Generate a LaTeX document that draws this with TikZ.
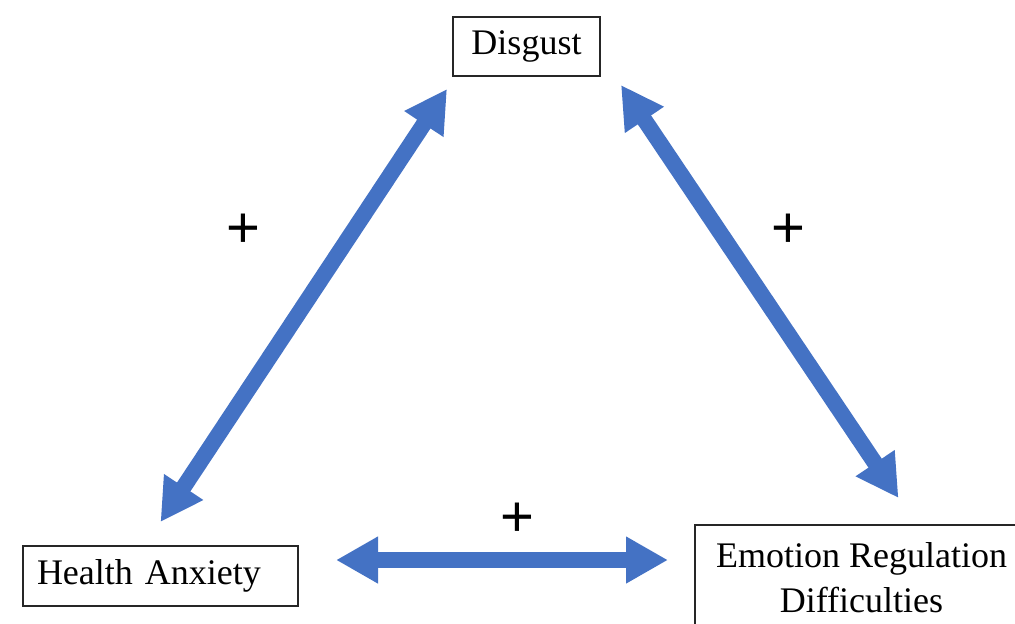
\documentclass[tikz,border=0pt]{standalone}
\usepackage{fontspec}
\setmainfont{Liberation Serif}
\newfontfamily\plusfont{Liberation Sans}
\usetikzlibrary{arrows.meta}
\definecolor{linkblue}{HTML}{4472C4}

\begin{document}
\begin{tikzpicture}[x=0.5pt,y=-0.5pt,
  box/.style={draw=black!85,line width=1pt,font=\fontsize{18}{22.5}\selectfont},
  link/.style={draw=linkblue,line width=8pt,{Triangle[width=22pt,length=21pt]}-{Triangle[width=22pt,length=21pt]}},
  sign/.style={font=\plusfont\fontsize{29}{30}\selectfont,inner sep=0pt}]
  \path[use as bounding box,clip] (0,0) rectangle (1015,623);
  \node[box,minimum width=73.5pt,minimum height=29.5pt,inner sep=0pt] (dis) at (526.5,46.5) {Disgust};
  \node[box,text width=123.5pt,inner xsep=7pt,minimum height=30pt,inner ysep=0pt,align=left] (ha) at (160.5,576) {Health Anxiety};
  \node[box,anchor=north west,minimum width=166.5pt,inner ysep=9pt,align=center] (erd) at (694,524) {Emotion Regulation\\Difficulties};
  \draw[link]([shift={(-5,12)}]dis.south west)--([shift={(0,-23)}]ha.north);
  \draw[link]([shift={(20,8)}]dis.south east)--([shift={(37,-26)}]erd.north);
  \draw[link]([shift={(37,-16)}]ha.east)--([shift={(-26,36)}]erd.north west);
  \node[sign] (plusL) at (243,231) {+};
  \node[sign] (plusR) at (788,231) {+};
  \node[sign] (plusB) at (517,520) {+};
\end{tikzpicture}
\end{document}
